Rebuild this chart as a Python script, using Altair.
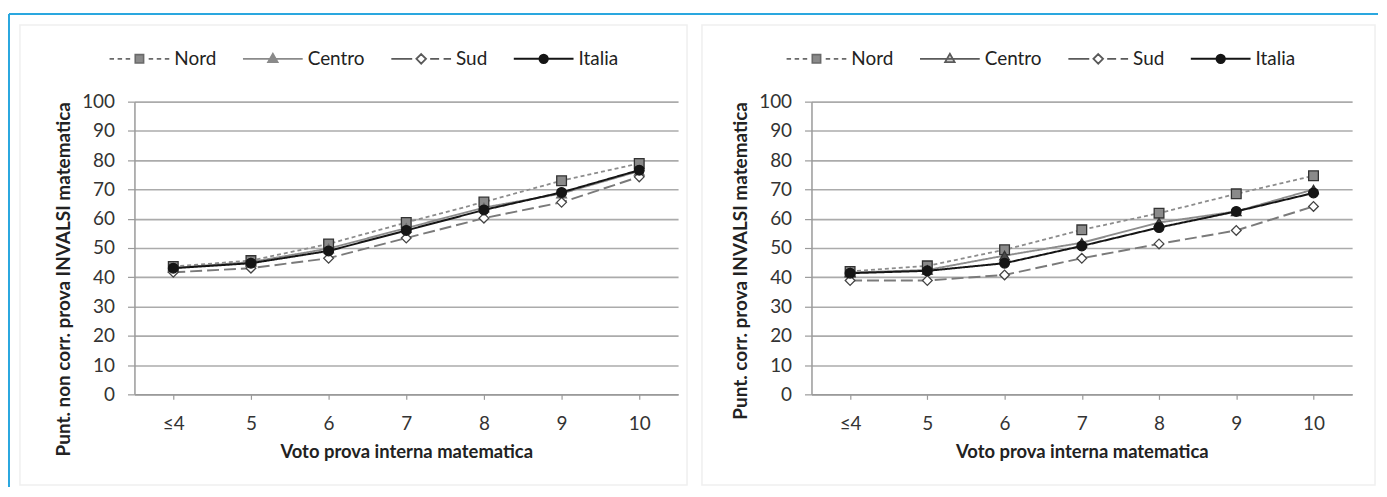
import altair as alt
import pandas as pd

# ---------------- data ----------------
categories = ["≤4", "5", "6", "7", "8", "9", "10"]
series = ["Nord", "Centro", "Sud", "Italia"]

# left panel: punteggio non corretto
nord_noncorr = [43.7, 45.7, 51.4, 58.7, 65.7, 73.0, 78.9]
centro_noncorr = [43.2, 45.2, 49.8, 56.8, 63.8, 68.6, 76.3]
sud_noncorr = [41.7, 43.1, 46.5, 53.4, 60.2, 65.6, 74.3]
italia_noncorr = [43.1, 44.8, 49.0, 56.0, 63.0, 69.0, 76.6]

# right panel: punteggio corretto
nord_corr = [42.0, 43.9, 49.4, 56.2, 61.9, 68.5, 74.7]
centro_corr = [41.6, 42.5, 47.4, 51.8, 58.7, 62.5, 70.0]
sud_corr = [38.9, 38.9, 40.8, 46.5, 51.4, 56.0, 64.2]
italia_corr = [41.4, 42.2, 44.8, 50.7, 57.0, 62.5, 68.8]

x_title = "Voto prova interna matematica"
y_title_left = "Punt. non corr. prova INVALSI matematica"
y_title_right = "Punt. corr. prova INVALSI matematica"

# ---------------- styles ----------------
line_colors = ["#8c8c8c", "#8c8c8c", "#7a7a7a", "#151515"]
line_dashes = [[4, 3], [1, 0], [12, 5], [1, 0]]
line_widths = [1.8, 2.0, 2.0, 2.6]
point_shapes = ["square", "triangle-up", "diamond", "circle"]
point_fills_left = ["#8a8a8a", "#8a8a8a", "#ffffff", "#151515"]
point_strokes_left = ["#333333", "#6a6a6a", "#444444", "#151515"]
point_fills_right = ["#8a8a8a", "#4a4a4a", "#ffffff", "#151515"]
point_strokes_right = ["#333333", "#333333", "#444444", "#151515"]

leg_paths = [
    "M-1,0H-0.85M-0.73,0H-0.58M-0.46,0H-0.31"
    "M-0.14,-0.14H0.14V0.14H-0.14Z"
    "M0.31,0H0.46M0.58,0H0.73M0.85,0H1",
    "M-1,0H1M0,-0.17L0.16,0.11H-0.16Z",
    "M-1,0H-0.3M0.3,0H0.6M0.75,0H1"
    "M0,-0.16L0.16,0L0,0.16L-0.16,0Z",
    "M-1,0H1M-0.14,0A0.14,0.14 0 1,0 0.14,0A0.14,0.14 0 1,0 -0.14,0Z",
]
leg_strokes_left = ["#6a6a6a", "#8a8a8a", "#5a5a5a", "#151515"]
leg_fills_left = ["#8a8a8a", "#8a8a8a", "#ffffff", "#151515"]
leg_strokes_right = ["#6a6a6a", "#5a5a5a", "#5a5a5a", "#151515"]
leg_fills_right = ["#8a8a8a", "#d0d0d0", "#ffffff", "#151515"]
leg_widths = [1.6, 2.0, 1.8, 2.4]

FONT = "Lato"
FRAME_CYAN = "#2aa7df"
FRAME_GRAY = "#efefef"


def make_df(values):
    rows = []
    for s, vals in zip(series, values):
        for i, (c, v) in enumerate(zip(categories, vals)):
            rows.append({"voto": c, "serie": s, "punteggio": v, "idx": i})
    return pd.DataFrame(rows)


def panel(df, ytitle, width, frame_x, frame_x2, pfills, pstrokes, lfills, lstrokes, cyan=False):
    x = alt.X(
        "voto:N",
        sort=categories,
        scale=alt.Scale(type="point", domain=categories, padding=0.5),
        axis=alt.Axis(
            title=x_title,
            labelAngle=0,
            labelFont=FONT,
            labelFontSize=19,
            labelColor="#333333",
            labelPadding=15,
            titleFont=FONT,
            titleFontSize=18.5,
            titleFontWeight="bold",
            titleColor="#222222",
            titlePadding=9,
            domainColor="#9a9a9a",
            domainWidth=1.5,
            tickColor="#9a9a9a",
            tickSize=5,
            tickWidth=1.2,
            grid=False,
        ),
    )
    y = alt.Y(
        "punteggio:Q",
        scale=alt.Scale(domain=[0, 100], nice=False),
        axis=alt.Axis(
            title=ytitle,
            values=list(range(0, 101, 10)),
            labelFont=FONT,
            labelFontSize=19,
            labelColor="#333333",
            labelPadding=13,
            titleFont=FONT,
            titleFontSize=19,
            titleFontWeight="bold",
            titleColor="#222222",
            titlePadding=8,
            titleAnchor="end",
            domainColor="#9a9a9a",
            domainWidth=1.5,
            tickColor="#9a9a9a",
            tickSize=7,
            tickWidth=1.2,
            grid=True,
            gridColor="#ababab",
            gridWidth=1.6,
        ),
    )
    base = alt.Chart(df).encode(x=x, y=y)

    lines = base.mark_line().encode(
        color=alt.Color("serie:N", scale=alt.Scale(domain=series, range=line_colors), legend=None),
        strokeDash=alt.StrokeDash("serie:N", scale=alt.Scale(domain=series, range=line_dashes), legend=None),
        strokeWidth=alt.StrokeWidth("serie:N", scale=alt.Scale(domain=series, range=line_widths), legend=None),
        order=alt.Order("idx:Q"),
    )

    points = base.mark_point(filled=True, opacity=1, size=95, strokeWidth=1.3).encode(
        shape=alt.Shape("serie:N", scale=alt.Scale(domain=series, range=point_shapes), legend=None),
        fill=alt.Fill("serie:N", scale=alt.Scale(domain=series, range=pfills), legend=None),
        stroke=alt.Stroke("serie:N", scale=alt.Scale(domain=series, range=pstrokes), legend=None),
    )

    leg = alt.Legend(
        title=None,
        orient="none",
        direction="horizontal",
        legendX=-26,
        legendY=-74,
        symbolSize=3600,
        labelFont=FONT,
        labelFontSize=19,
        labelColor="#222222",
        labelOffset=4,
        columnPadding=22,
    )
    legend_layer = (
        alt.Chart(df)
        .transform_filter("false")
        .mark_point(filled=True, opacity=1)
        .encode(
            shape=alt.Shape("serie:N", scale=alt.Scale(domain=series, range=leg_paths), legend=leg),
            fill=alt.Fill("serie:N", scale=alt.Scale(domain=series, range=lfills), legend=leg),
            stroke=alt.Stroke("serie:N", scale=alt.Scale(domain=series, range=lstrokes), legend=leg),
            strokeWidth=alt.StrokeWidth("serie:N", scale=alt.Scale(domain=series, range=leg_widths), legend=leg),
        )
    )

    deco = alt.Chart(pd.DataFrame({"k": [0]}))
    layers = [
        deco.mark_rect(fill="transparent", stroke=FRAME_GRAY, strokeWidth=1.5).encode(
            x=alt.value(frame_x), x2=alt.value(frame_x2), y=alt.value(-77), y2=alt.value(385)
        )
    ]
    if cyan:
        layers.append(
            deco.mark_rule(color=FRAME_CYAN, strokeWidth=2).encode(
                x=alt.value(-126), x2=alt.value(1249), y=alt.value(-88)
            )
        )
        layers.append(
            deco.mark_rule(color=FRAME_CYAN, strokeWidth=2).encode(
                x=alt.value(-126), y=alt.value(-88), y2=alt.value(387)
            )
        )
    layers += [lines, points, legend_layer]

    return (
        alt.layer(*layers)
        .resolve_scale(shape="independent", fill="independent", stroke="independent", strokeWidth="independent")
        .properties(width=width, height=294)
    )


left = panel(make_df([nord_noncorr, centro_noncorr, sud_noncorr, italia_noncorr]), y_title_left,
             546, -115, 555, point_fills_left, point_strokes_left,
             leg_fills_left, leg_strokes_left, cyan=True)
right = panel(make_df([nord_corr, centro_corr, sud_corr, italia_corr]), y_title_right,
              543, -110, 566, point_fills_right, point_strokes_right,
              leg_fills_right, leg_strokes_right)

chart = (
    alt.hconcat(left, right, spacing=134, bounds="flush")
    .resolve_scale(shape="independent", fill="independent", stroke="independent",
                   strokeWidth="independent", color="independent", strokeDash="independent")
    .properties(padding={"left": 0, "top": 4, "right": 0, "bottom": 0}, background="white")
    .configure_view(stroke=None)
)

chart.save("out.html", embed_options={"renderer": "svg", "actions": False})
